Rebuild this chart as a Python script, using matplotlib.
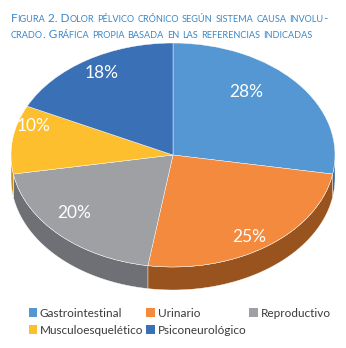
import numpy as np
import matplotlib
matplotlib.use("Agg")
import matplotlib.pyplot as plt
from matplotlib.patches import Polygon, Patch

# data
categorias = ["Gastrointestinal", "Urinario", "Reproductivo", "Musculoesquelético", "Psiconeurológico"]
valores = [28, 25, 20, 10, 18]
colores = ["#5497d3", "#f48a3d", "#9fa0a4", "#fdbf2d", "#3a70b6"]
colores_lado = ["#2f66a3", "#98531f", "#6f7075", "#c8901a", "#2a568e"]

titulo = ["Figura 2. Dolor pélvico crónico según sistema causa involu-",
          "crado. Gráfica propia basada en las referencias indicadas"]

# where the % labels sit (data units of the unit pie)
lugar_pct = [(0.45, 0.56), (0.47, -0.73), (-0.61, -0.52), (-0.86, 0.26), (-0.44, 0.73)]

plt.rcParams['font.family'] = ['Lato', 'DejaVu Sans']

W, H = 346, 348
fig = plt.figure(figsize=(W / 100, H / 100), dpi=100)
ax = fig.add_axes([0, 0, 1, 1])

cx, cy, rx, ry = 173, 193, 162, 112   # pixel geometry of the top ellipse
depth = 23 / ry

wedges, texts = ax.pie(valores, colors=colores, startangle=90, counterclock=False,
                       radius=1, labels=[f"{v}%" for v in valores], labeldistance=0.8,
                       wedgeprops=dict(linewidth=0.3, edgecolor="white"),
                       textprops=dict(color="white", fontsize=12.5))
for t, p in zip(texts, lugar_pct):
    t.set_position(p)
    t.set_ha("center")
    t.set_va("center")
ax.set_aspect("auto")
ax.set_xlim((0 - cx) / rx, (W - cx) / rx)
ax.set_ylim((0 - cy) / ry, (H - cy) / ry)
ax.axis("off")

# side wall of the "3d" pie
for w, c in zip(wedges, colores_lado):
    t1, t2 = sorted([w.theta1, w.theta2])
    # visible part: lower half of ellipse
    for k in range(-1, 2):
        lo = max(t1, 180 + 360 * k)
        hi = min(t2, 360 + 360 * k)
        if hi <= lo:
            continue
        t = np.radians(np.linspace(lo, hi, 60))
        top = np.column_stack([np.cos(t), np.sin(t)])
        bot = top.copy()
        bot[:, 1] -= depth
        poly = np.vstack([top, bot[::-1]])
        ax.add_patch(Polygon(poly, closed=True, facecolor=c, edgecolor="white",
                             linewidth=0.3, zorder=0))

# legend
orden = [0, 3, 1, 4, 2]
handles = [Patch(facecolor=colores[i], edgecolor="none") for i in orden]
fig.legend(handles, [categorias[i] for i in orden], ncol=3, frameon=False,
           loc="upper left", bbox_to_anchor=(18 / W, 1 - 297 / H),
           fontsize=8.5, handlelength=0.75, handleheight=0.75, handletextpad=0.2,
           columnspacing=0.25, labelspacing=0.5, labelcolor="#3a3a3c")

# title in small caps
def small_caps(x, y, texto, big=8.5, small=6.6, color="#3a87c8"):
    r = fig.canvas.get_renderer()
    pos = x
    i = 0
    while i < len(texto):
        up = texto[i].isupper() or not texto[i].isalpha()
        j = i
        while j < len(texto) and (texto[j].isupper() or not texto[j].isalpha()) == up:
            j += 1
        trozo = texto[i:j]
        t = fig.text(pos / W, 1 - y / H, trozo.upper(), fontsize=big if up else small,
                     color=color, va="baseline", ha="left")
        bb = t.get_window_extent(r)
        pos += bb.width
        i = j

small_caps(11, 22, titulo[0])
small_caps(11, 38, titulo[1])

fig.savefig("out.png", dpi=100)
